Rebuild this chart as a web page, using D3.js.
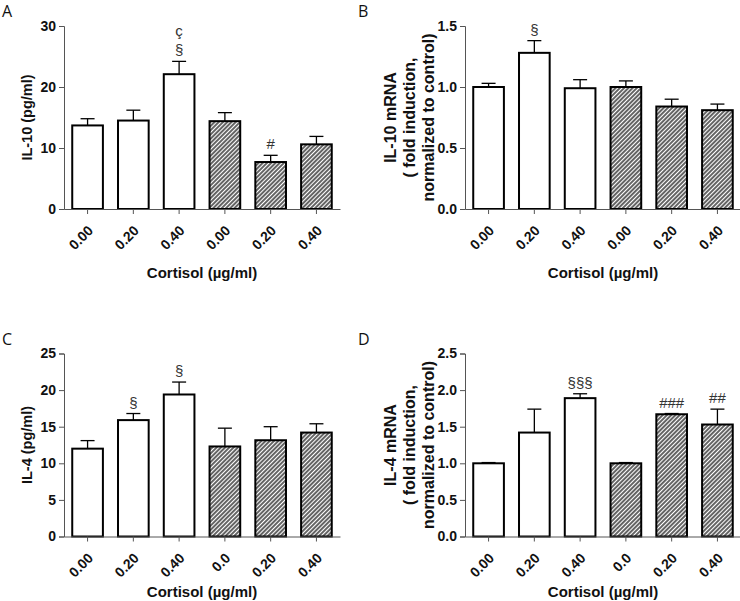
<!DOCTYPE html>
<html>
<head>
<meta charset="utf-8">
<script src="https://cdn.jsdelivr.net/npm/d3@7"></script>
<style>
  body { margin: 0; background: #fff; }
  svg { display: block; }
  svg text { font-family: "Liberation Sans", Arial, sans-serif; }
</style>
</head>
<body>
<svg width="740" height="601"></svg>
<script>
// tick labels (doses)
const dosesAB = ["0.00", "0.20", "0.40", "0.00", "0.20", "0.40"];
const dosesCD = ["0.00", "0.20", "0.40", "0.0", "0.20", "0.40"];

// A - IL-10 protein
const il10Prot = [13.7, 14.5, 22.1, 14.4, 7.7, 10.6];
const il10ProtErr = [1.1, 1.7, 2.1, 1.4, 1.1, 1.3];
const il10ProtSig = [[], [], ["ç", "§"], [], ["#"], []];

// B - IL-10 mRNA
const il10Mrna = [1.0, 1.28, 0.99, 1.0, 0.84, 0.81];
const il10MrnaErr = [0.03, 0.10, 0.07, 0.05, 0.06, 0.05];
const il10MrnaSig = [[], ["§"], [], [], [], []];

// C - IL-4 protein
const il4Prot = [12.0, 15.9, 19.4, 12.3, 13.15, 14.2];
const il4ProtErr = [1.1, 0.9, 1.7, 2.5, 1.85, 1.2];
const il4ProtSig = [[], ["§"], ["§"], [], [], []];

// D - IL-4 mRNA
const il4Mrna = [1.0, 1.42, 1.89, 1.0, 1.67, 1.53];
const il4MrnaErr = [0.01, 0.32, 0.06, 0.01, 0.01, 0.21];
const il4MrnaSig = [[], [], ["§§§"], [], ["###"], ["##"]];

const hatched = [false, false, false, true, true, true];

const panels = [
  { tag: "A", ox: 0, oy: 0, titleY: 278, labels: dosesAB, vals: il10Prot, err: il10ProtErr, sig: il10ProtSig,
    max: 30, ticks: [0, 10, 20, 30], fmt: d3.format("d"), ylab: ["IL-10 (pg/ml)"] },
  { tag: "B", ox: 401, oy: 0, titleY: 278, labels: dosesAB, vals: il10Mrna, err: il10MrnaErr, sig: il10MrnaSig,
    max: 1.5, ticks: [0, 0.5, 1, 1.5], fmt: d3.format(".1f"),
    ylab: ["IL-10 mRNA", "( fold induction,", "normalized to control)"] },
  { tag: "C", ox: 0, oy: 327.5, titleY: 269, labels: dosesCD, vals: il4Prot, err: il4ProtErr, sig: il4ProtSig,
    max: 25, ticks: [0, 5, 10, 15, 20, 25], fmt: d3.format("d"), ylab: ["IL-4 (pg/ml)"] },
  { tag: "D", ox: 401, oy: 327.5, titleY: 269, labels: dosesCD, vals: il4Mrna, err: il4MrnaErr, sig: il4MrnaSig,
    max: 2.5, ticks: [0, 0.5, 1, 1.5, 2, 2.5], fmt: d3.format(".1f"),
    ylab: ["IL-4 mRNA", "( fold induction,", "normalized to control)"] }
];

const svg = d3.select("svg");

// diagonal hatch
svg.append("defs").append("pattern")
  .attr("id", "hatch")
  .attr("patternUnits", "userSpaceOnUse")
  .attr("width", 3).attr("height", 3)
  .attr("patternTransform", "rotate(45)")
  .call(p => {
    p.append("rect").attr("width", 3).attr("height", 3).attr("fill", "#fff");
    p.append("line").attr("x1", 1).attr("y1", 0).attr("x2", 1).attr("y2", 3)
      .attr("stroke", "#222").attr("stroke-width", 1.4);
  });

const plotL = 64, plotW = 276, plotT = 26, plotB = 209;
const font = "'Liberation Sans', Arial, sans-serif";

panels.forEach(p => {
  const g = svg.append("g").attr("transform", `translate(${p.ox},${p.oy})`);

  const x = d3.scaleBand().domain(d3.range(p.vals.length)).range([plotL, plotL + plotW]).paddingInner(0.33).paddingOuter(0.18);
  const y = d3.scaleLinear().domain([0, p.max]).range([plotB, plotT]);

  // bars
  g.selectAll(".bar").data(p.vals).enter().append("rect")
    .attr("x", (d, i) => x(i))
    .attr("y", d => y(d))
    .attr("width", x.bandwidth())
    .attr("height", d => plotB - y(d))
    .attr("fill", (d, i) => hatched[i] ? "url(#hatch)" : "#fff")
    .attr("stroke", "#000").attr("stroke-width", 2);

  // error bars (upper only)
  const eb = g.selectAll(".err").data(p.vals).enter().append("g");
  eb.append("line")
    .attr("x1", (d, i) => x(i) + x.bandwidth() / 2).attr("x2", (d, i) => x(i) + x.bandwidth() / 2)
    .attr("y1", d => y(d)).attr("y2", (d, i) => y(d + p.err[i]))
    .attr("stroke", "#000").attr("stroke-width", 1.3);
  eb.append("line")
    .attr("x1", (d, i) => x(i) + x.bandwidth() / 2 - 7).attr("x2", (d, i) => x(i) + x.bandwidth() / 2 + 7)
    .attr("y1", (d, i) => y(d + p.err[i])).attr("y2", (d, i) => y(d + p.err[i]))
    .attr("stroke", "#000").attr("stroke-width", 1.3);

  // significance marks
  p.sig.forEach((lines, i) => {
    const n = lines.length;
    lines.forEach((s, k) => {
      g.append("text")
        .attr("x", x(i) + x.bandwidth() / 2)
        .attr("y", y(p.vals[i] + p.err[i]) - 6 - (n - 1 - k) * 19)
        .attr("text-anchor", "middle")
        .attr("font-size", 15).attr("fill", "#333")
        .text(s);
    });
  });

  // y axis
  const ya = g.append("g").attr("transform", `translate(${plotL},0)`)
    .call(d3.axisLeft(y).tickValues(p.ticks).tickFormat(p.fmt).tickSize(5).tickPadding(3));
  ya.attr("font-family", null);
  ya.select(".domain").attr("stroke", "#555");
  ya.selectAll(".tick line").attr("stroke", "#555");
  ya.selectAll("text").attr("font-size", 14).attr("font-weight", "bold").attr("fill", "#111")
    .style("font-family", font);

  // x axis
  const xa = g.append("g").attr("transform", `translate(0,${plotB})`)
    .call(d3.axisBottom(x).tickSize(5).tickSizeOuter(0).tickFormat(i => p.labels[i]));
  xa.attr("font-family", null);
  xa.select(".domain").attr("stroke", "#555");
  xa.selectAll(".tick line").attr("stroke", "#555");
  xa.selectAll("text")
    .attr("font-size", 14).attr("font-weight", "bold").attr("fill", "#111")
    .style("font-family", font)
    .attr("text-anchor", "end")
    .attr("transform", "translate(3,19) rotate(-45)")
    .attr("dy", "0.35em").attr("y", 0);

  // x title
  g.append("text")
    .attr("x", 202).attr("y", p.titleY)
    .attr("text-anchor", "middle")
    .attr("font-size", 15).attr("font-weight", "bold").attr("fill", "#111")
    .text("Cortisol (µg/ml)");

  // y title
  const n = p.ylab.length;
  p.ylab.forEach((s, k) => {
    const lx = n === 1 ? 32 : -5 + k * 19;
    g.append("text")
      .attr("transform", `translate(${lx},117.5) rotate(-90)`)
      .attr("text-anchor", "middle")
      .attr("font-size", n === 1 ? 14.5 : 16).attr("font-weight", "bold").attr("fill", "#111")
      .text(s);
  });

  // panel tag
  g.append("text")
    .attr("x", p.tag === "A" || p.tag === "C" ? 2 : -43).attr("y", 17)
    .attr("font-size", 16).style("font-family", "'Open Sans', sans-serif").attr("fill", "#111")
    .text(p.tag);
});
</script>
</body>
</html>
